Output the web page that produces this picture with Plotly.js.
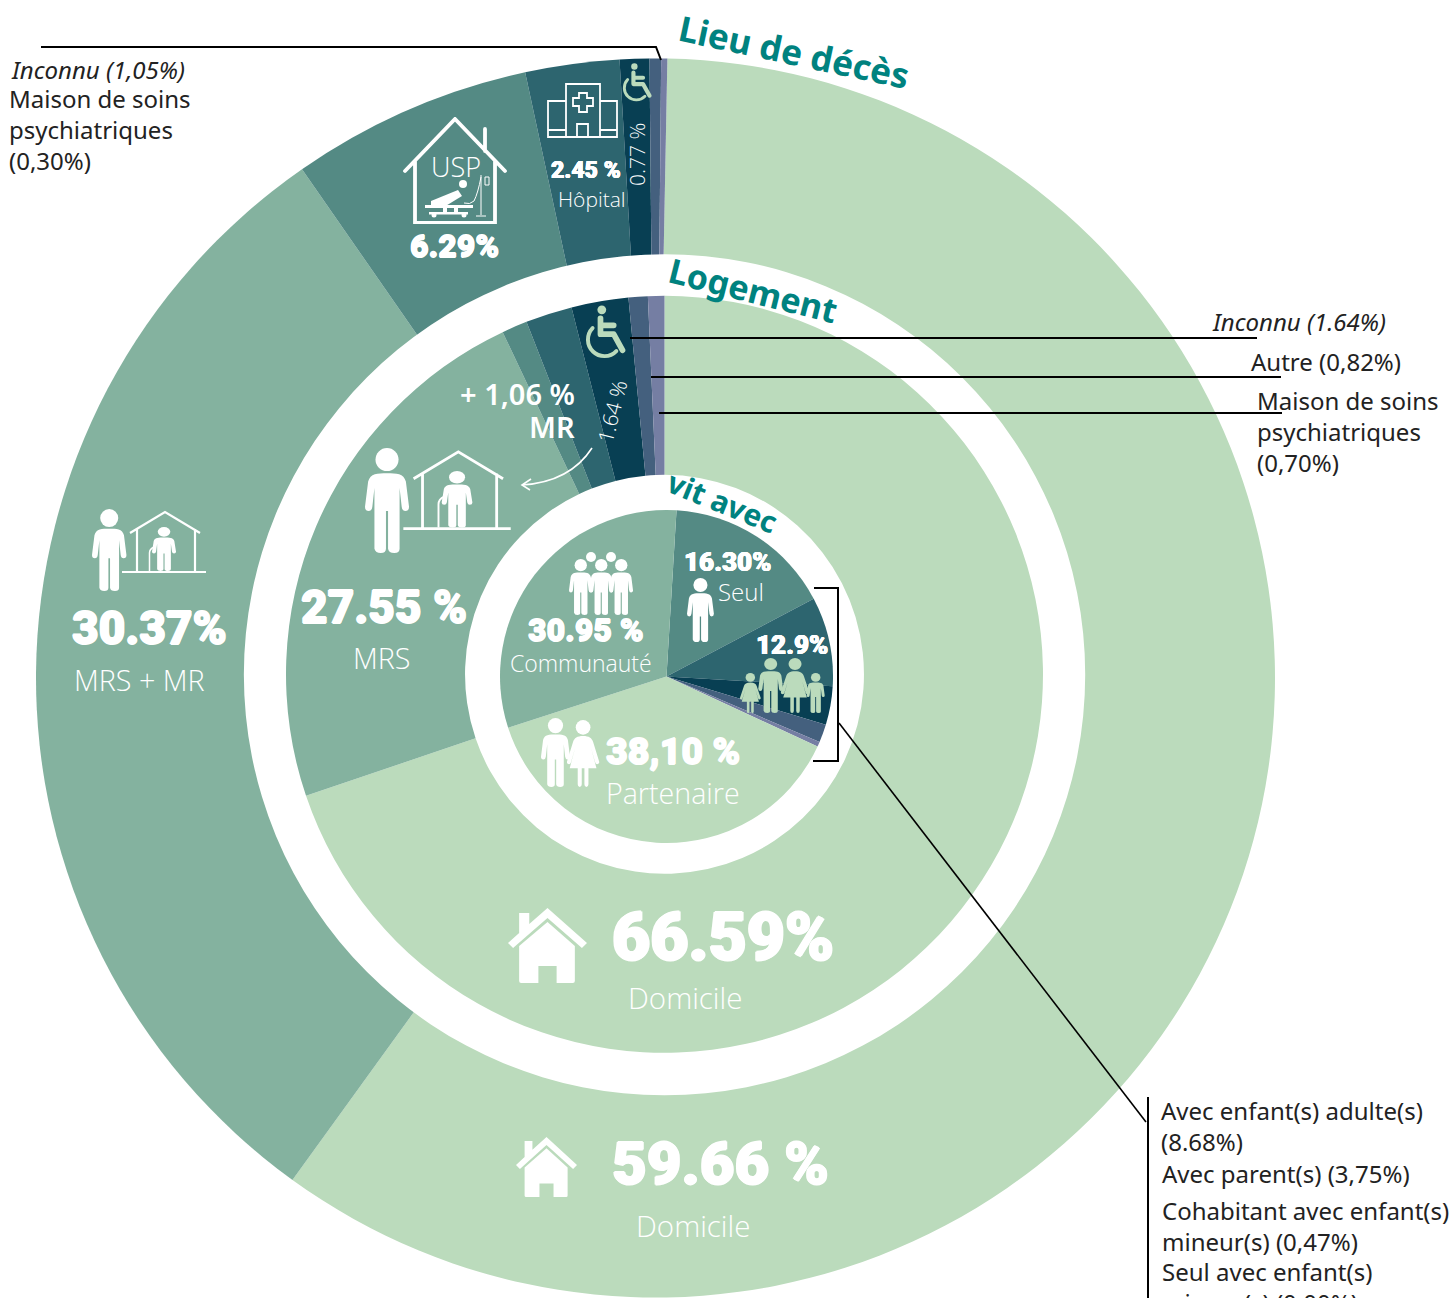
<!DOCTYPE html>
<html lang="fr">
<head>
<meta charset="utf-8">
<script src="https://cdn.plot.ly/plotly-3.0.1.min.js"></script>
<style>html,body{margin:0;padding:0;background:#fff}#chart{width:1452px;height:1298px}</style>
</head>
<body>
<div id="chart"></div>
<script>
// ---- data ----
const decesLabels = ["Domicile","MRS + MR","USP","Hôpital","Handicap","Maison de soins psychiatriques","Inconnu"];
const decesValues = [59.66,30.37,6.29,2.45,0.77,0.30,0.16];
const logementLabels = ["Domicile","MRS","MR","Inconnu","Handicap","Autre","Maison de soins psychiatriques"];
const logementValues = [69.80,23.17,1.09,1.99,2.43,0.82,0.70];
const vitLabels = ["Seul","Avec enfant(s) adulte(s)","Avec parent(s)","Autre","Cohabitant avec enfant(s) mineur(s)","Partenaire","Communauté"];
const vitValues = [16.30,8.68,3.75,1.75,0.47,38.10,30.95];

const GREEN="#bbdbbc",MRSC="#84b29f",USPC="#548a84",HOSP="#2d656f",NAVY="#083f53",SLATE="#44607e",PURP="#757ea3",TEAL="#00827f";
const W=1452,H=1298;
const dom=(cx,cy,r)=>({x:[(cx-r)/W,(cx+r)/W],y:[1-(cy+r)/H,1-(cy-r)/H]});
const pie=(labels,values,colors,d,extra)=>Object.assign({type:"pie",labels,values,sort:false,direction:"clockwise",
  marker:{colors,line:{width:0}},textinfo:"none",hoverinfo:"skip",showlegend:false,domain:d},extra||{});

const traces=[
  pie(decesLabels,decesValues,[GREEN,MRSC,USPC,HOSP,NAVY,SLATE,PURP],dom(655.5,678,619.5),{rotation:1.1}),
  pie(["Anneau"],[1],["#ffffff"],dom(664.5,674.7,420.5)),
  pie(logementLabels,logementValues,[GREEN,MRSC,USPC,HOSP,NAVY,SLATE,PURP],dom(664.5,674.3,378.5),{hole:0.527}),
  pie(vitLabels,vitValues,[USPC,HOSP,NAVY,SLATE,PURP,GREEN,MRSC],dom(666.5,676.5,166.5),{rotation:3.45})
];

// ---- text ----
const BODY="'Noto Sans',sans-serif", NUM="Roboto,sans-serif", LIGHT="'Open Sans',sans-serif";
function T(text,x,y,size,o){o=o||{};
  const left=o.a==="left";
  const font={family:o.f||BODY,size,color:o.c||"#ffffff",weight:o.w||400,style:o.s||"normal"};
  if(o.sh) font.shadow=o.sh;
  return {text,x:(x-(left?1.5:0))/W,y:1-(y-1)/H,xref:"paper",yref:"paper",showarrow:false,
  xanchor:o.a||"center",yanchor:o.v||"middle",align:left?"left":(o.a==="right"?"right":"center"),textangle:o.r||0,
  borderpad:0,font};}
const big=(t,x,y,s)=>{const d=(s*0.018).toFixed(2);
  return T(t,x,y+1+s*0.03,s,{f:NUM,w:900,sh:`${d}px 0 0 #fff,-${d}px 0 0 #fff,0 ${d}px 0 #fff,0 -${d}px 0 #fff`});};
const thin=(t,x,y,s,o)=>T(t,x,y,s,Object.assign({f:LIGHT,w:300},o||{}));
const dark="#222222", SZ=24;
const annotations=[
  T("Lieu de décès",794,52,35,{w:700,c:TEAL,r:12}),
  T("Logement",753,291,34,{w:700,c:TEAL,r:14}),
  T("vit avec",722,502,30,{w:700,c:TEAL,r:22}),
  big("30.37%",149,627,46), thin("MRS + MR",139,680,28.7),
  big("27.55 %",384,606,46), thin("MRS",381,658,28.7),
  T("+ 1,06 %",576,394,29,{a:"right",w:600}), T("MR",576,428,29,{a:"right",w:600}),
  thin("1.64 %",612,413,21,{r:-76}), thin("0.77 %",637,156,21,{r:-90}),
  big("2.45 %",586,170,23), thin("Hôpital",592,200,21),
  thin("USP",456,167,27), big("6.29%",454,245,32),
  big("16.30%",728,561,26), thin("Seul",741,592,24),
  big("12.9%",792,644,26),
  big("30.95 %",586,629,32), thin("Communauté",581,664,23),
  big("38,10 %",673,750,37.5), thin("Partenaire",673,794,28.6),
  big("66.59%",723,936,66), thin("Domicile",685,998,29.5),
  big("59.66 %",720,1162,60), thin("Domicile",693,1226,29.5),
  T("Inconnu (1,05%)",11,70,SZ,{a:"left",c:dark,s:"italic"}),
  T("Maison de soins<br>psychiatriques<br>(0,30%)",9,130,SZ,{a:"left",c:dark}),
  T("Inconnu (1.64%)",1212,322,SZ,{a:"left",c:dark,s:"italic"}),
  T("Autre (0,82%)",1251,362,SZ,{a:"left",c:dark}),
  T("Maison de soins<br>psychiatriques<br>(0,70%)",1257,432,SZ,{a:"left",c:dark}),
  T("Avec enfant(s) adulte(s)<br>(8.68%)",1161,1127,SZ,{a:"left",c:dark}),
  T("Avec parent(s) (3,75%)",1162,1174,SZ,{a:"left",c:dark}),
  T("Cohabitant avec enfant(s)<br>mineur(s) (0,47%)",1162,1227,SZ,{a:"left",c:dark}),
  T("Seul avec enfant(s)<br>mineur(s) (0,00%)",1162,1288,SZ,{a:"left",c:dark})
];

// ---- leader lines ----
const toPaper=d=>d.replace(/(-?[\d.]+) (-?[\d.]+)/g,(m,x,y)=>(x/W)+","+(1-y/H));
const path=(d,color,width)=>({type:"path",xref:"paper",yref:"paper",path:toPaper(d),line:{color,width},fillcolor:"rgba(0,0,0,0)"});
const shapes=[
  path("M41 47 L656 47 L661 60","#000",2),
  path("M630 338 L1257 338","#000",2),
  path("M651 377 L1281 377","#000",2),
  path("M659 413 L1282 413","#000",2),
  path("M814 588 L838 588 L838 761 L813 761","#000",2),
  path("M839 723 L1146 1122","#000",1.6),
  path("M1148 1097 L1148 1298","#000",2),
  path("M592 448 Q570 482 522 485","#fff",1.6),
  path("M531 479 L522 485 L530 490","#fff",1.6)
];

// ---- pictograms ----
const manP="M21 24C30 24 37 24 39 32L42 56Q42 60 38.5 60Q35.5 60 35 56L33 38L33 96Q33 100 28 100Q22.500 100 22 96L22 60L20 60L20 96Q20 100 15 100Q10 100 9 96L9 38L7 56Q6.500 60 3.500 60Q0 60 0 56L3 32C5 24 12 24 21 24Z";
const man=(x,y,h,c)=>`<g transform="translate(${x} ${y}) scale(${h/100})" fill="${c}"><circle cx="21" cy="11" r="11"/><path d="${manP}"/></g>`;
const womanP="M24 24C15 24 11 27 9 33L0 62Q-1 65 3 66Q5 66 6 63L12 42L4 72H16V96Q16 100 19 100Q22 100 22 96V72H26V96Q26 100 29 100Q32 100 32 96V72H44L36 42L42 63Q43 66 45 66Q49 65 48 62L39 33C37 27 33 24 24 24Z";
const woman=(x,y,h,c)=>`<g transform="translate(${x} ${y}) scale(${h/100})" fill="${c}"><circle cx="24" cy="11" r="11"/><path d="${womanP}"/></g>`;
function img(inner,x,y,w,h,vw,vh){
  const svg=`<svg xmlns="http://www.w3.org/2000/svg" width="${w}" height="${h}" viewBox="0 0 ${vw||w} ${vh||h}" preserveAspectRatio="none">${inner}</svg>`;
  return {source:"data:image/svg+xml;charset=utf-8,"+encodeURIComponent(svg),xref:"paper",yref:"paper",x:x/W,y:1-y/H,
    sizex:w/W,sizey:h/H,xanchor:"left",yanchor:"top",sizing:"stretch",layer:"above"};
}
const care=man(0,0,82,"#fff")+
  `<path d="M38 24L73 3L108 24M45 20V63M103 20V63M30 63H114" fill="none" stroke="#fff" stroke-width="2.2"/>`+
  `<g transform="translate(60 18) scale(1.3 1)">${man(0,0,44,"#fff")}</g>`+`<path d="M57.500 62V44Q57.500 40 62 38" fill="none" stroke="#fff" stroke-width="1.500"/>`;
const chair=`<circle cx="45" cy="11" r="10" fill="${GREEN}"/>`+
  `<path d="M42 30V66H72L92 102M42 46H72" fill="none" stroke="${GREEN}" stroke-width="13" stroke-linecap="round" stroke-linejoin="round"/>`+
  `<path d="M24 52A34 34 0 1 0 78 104" fill="none" stroke="${GREEN}" stroke-width="9" stroke-linecap="round"/>`;
const hospital=`<g fill="none" stroke="#fff" stroke-width="1.800"><path d="M19 1H53V54H19ZM1 18H19V54H1ZM53 18H70V54H53ZM1 47H19M53 47H70M30 54V41H41V54"/>`+
  `<path d="M32 10H40V15H46V23H40V29H32V23H26V15H32Z"/></g>`;
const home=`<g fill="#fff"><path d="M39 0L78 35L73 40L39 10L5 40L0 35L11 25V5H21V16Z"/><path d="M39 14L66 38V73Q66 75 64 75H48V58H30V75H13Q11 75 11 73V38Z"/></g>`;
const usp=`<path d="M3 54L53 2L103 54M13 44V106H93V44M83 12V34" fill="none" stroke="#fff" stroke-width="3.800" stroke-linecap="round"/>`+
  `<g fill="#fff"><circle cx="61" cy="67" r="4"/><path d="M29 84L56 73L60 79L42 90H29Z"/><path d="M23 88H71V91H23Z"/><path d="M41 91H45V95H41ZM52 91H56V95H52Z"/>`+
  `<path d="M27 95H66V97.500H27Z"/><circle cx="32" cy="98" r="2.500"/><circle cx="62" cy="98" r="2.500"/></g>`+
  `<path d="M79 58V98M74 99H84M79 60Q76 76 72 84Q68 88 62 86M83 60H87V68H83Z" fill="none" stroke="#fff" stroke-width="1"/>`;
const crowd=`<circle cx="22" cy="5" r="5" fill="#fff"/><circle cx="42" cy="5" r="5" fill="#fff"/>`+man(0,7,56,"#fff")+man(20.500,7,56,"#fff")+man(40.500,7,56,"#fff");
const family=woman(0,15,40,GREEN)+man(17,0,55,GREEN)+woman(38,0,55,GREEN)+man(62,15,40,GREEN);
const images=[
  img(care,92,509,115,82),
  img(care,365,448,147,105,115,82),
  img(chair,620,63,32,39,100,122),
  img(chair,582,305,44,54,100,122),
  img(hospital,547,83,71,55),
  img(usp,402,117,106,107),
  img(home,508,908,79,75,78,75),
  img(home,516,1137,61,60,78,75),
  img(crowd,569,552,64,63),
  img(man(0,0,64,"#fff"),687,578,27,64),
  img(man(0,0,69,"#fff"),541,718,29,69),
  img(woman(0,0,67,"#fff"),567,720,33,67),
  img(family,740,658,86,56,80,56)
];

Plotly.newPlot("chart",traces,{
  width:W,height:H,margin:{l:0,r:0,t:0,b:0,pad:0},paper_bgcolor:"#ffffff",plot_bgcolor:"#ffffff",
  showlegend:false,annotations,shapes,images,font:{family:BODY}
},{displayModeBar:false,responsive:false});
</script>
</body>
</html>
